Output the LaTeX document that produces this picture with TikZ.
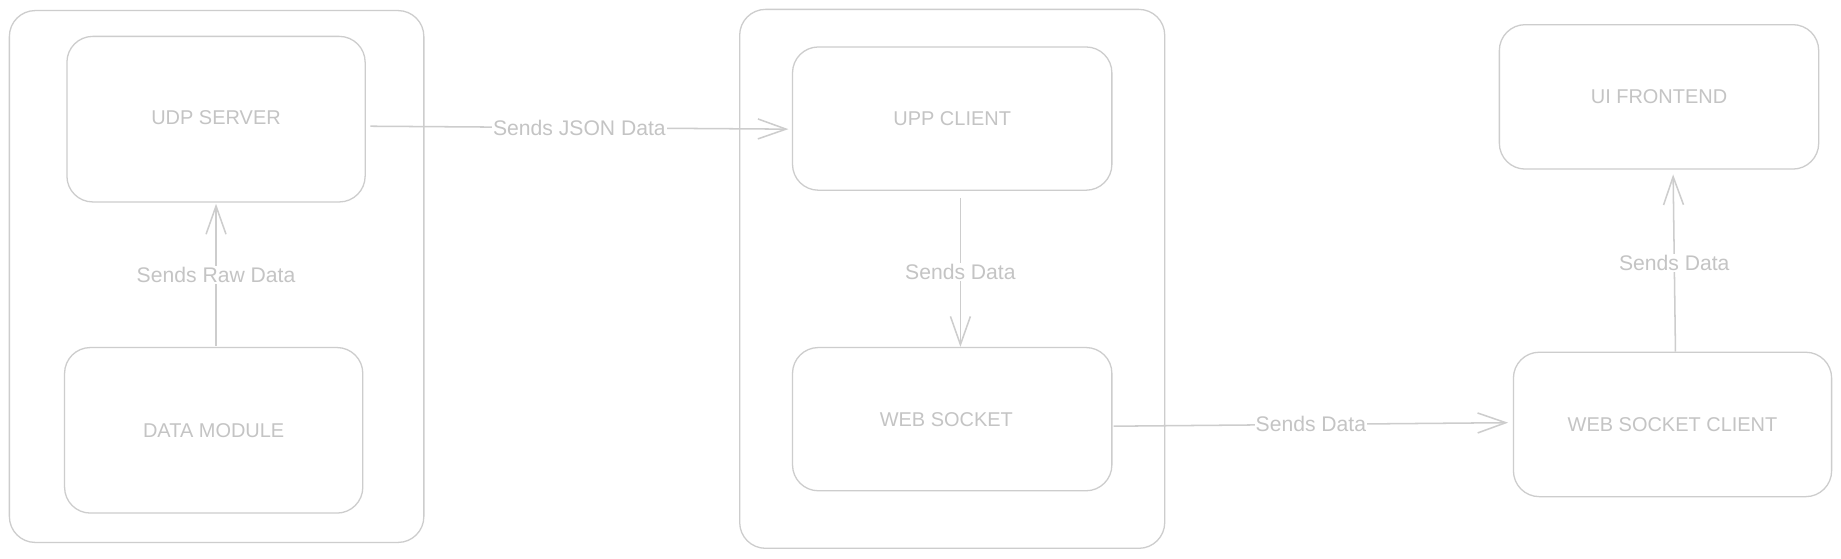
\documentclass[tikz,border=0pt]{standalone}
\usepackage{fontspec}
\setmainfont{Liberation Sans}
\usetikzlibrary{arrows.meta}
\definecolor{linegray}{HTML}{CDCDCD}
\definecolor{textgray}{HTML}{C4C4C4}
\tikzset{
  boxnode/.style={draw=linegray, line width=1.1pt, rounded corners=22pt, inner sep=0pt,
    text=textgray, font=\fontsize{17}{20}\selectfont},
  arr/.style={draw=linegray, line width=1.3pt, -{Straight Barb[length=24pt,width=17pt,line width=1.3pt]}},
  lbl/.style={fill=white, text=textgray, inner sep=1pt, font=\fontsize{18}{21}\selectfont}
}
\begin{document}
\begin{tikzpicture}[x=1pt,y=-1pt]
\useasboundingbox[fill=white] (0,0) rectangle (1568,476);
% outer containers
\node[boxnode, minimum width=353pt, minimum height=453pt] (outerA) at (184.5,235.5) {};
\node[boxnode, minimum width=362pt, minimum height=459pt] (outerB) at (811,237.5) {};
% boxes
\node[boxnode, minimum width=254pt, minimum height=141pt] (udp) at (184,101.5) {};
\node[text=textgray, font=\fontsize{17}{20}\selectfont] (udptxt) at (184,100) {UDP SERVER};
\node[boxnode, minimum width=254pt, minimum height=141pt] (data) at (182,366.5) {DATA MODULE};
\node[boxnode, minimum width=272pt, minimum height=122pt] (upp) at (811,101) {UPP CLIENT};
\node[boxnode, minimum width=272pt, minimum height=122pt] (ws) at (811,357) {};
\node[text=textgray, font=\fontsize{17}{20}\selectfont] (wstxt) at (806,357) {WEB SOCKET};
\node[boxnode, minimum width=272pt, minimum height=123pt] (ui) at (1413,82.5) {UI FRONTEND};
\node[boxnode, minimum width=271pt, minimum height=123pt] (wsc) at (1424.5,361.5) {WEB SOCKET CLIENT};
% connectors
\draw[arr] ([xshift=2pt,yshift=1pt]data.north) -- node[lbl]{Sends Raw Data} ([yshift=-1pt]udp.south);
\draw[arr] ([xshift=4pt,yshift=-6pt]udp.east) -- node[lbl]{Sends JSON Data} ([xshift=-3pt,yshift=-9pt]upp.west);
\draw[arr] ([xshift=7pt,yshift=-6pt]upp.south) -- node[lbl]{Sends Data} ([xshift=7pt]ws.north);
\draw[arr] ([xshift=1pt,yshift=-6pt]ws.east) -- node[lbl]{Sends Data} ([xshift=-4pt,yshift=1.5pt]wsc.west);
\draw[arr] ([xshift=2.5pt]wsc.north) -- node[lbl]{Sends Data} ([xshift=12pt,yshift=-4pt]ui.south);
\end{tikzpicture}
\end{document}
